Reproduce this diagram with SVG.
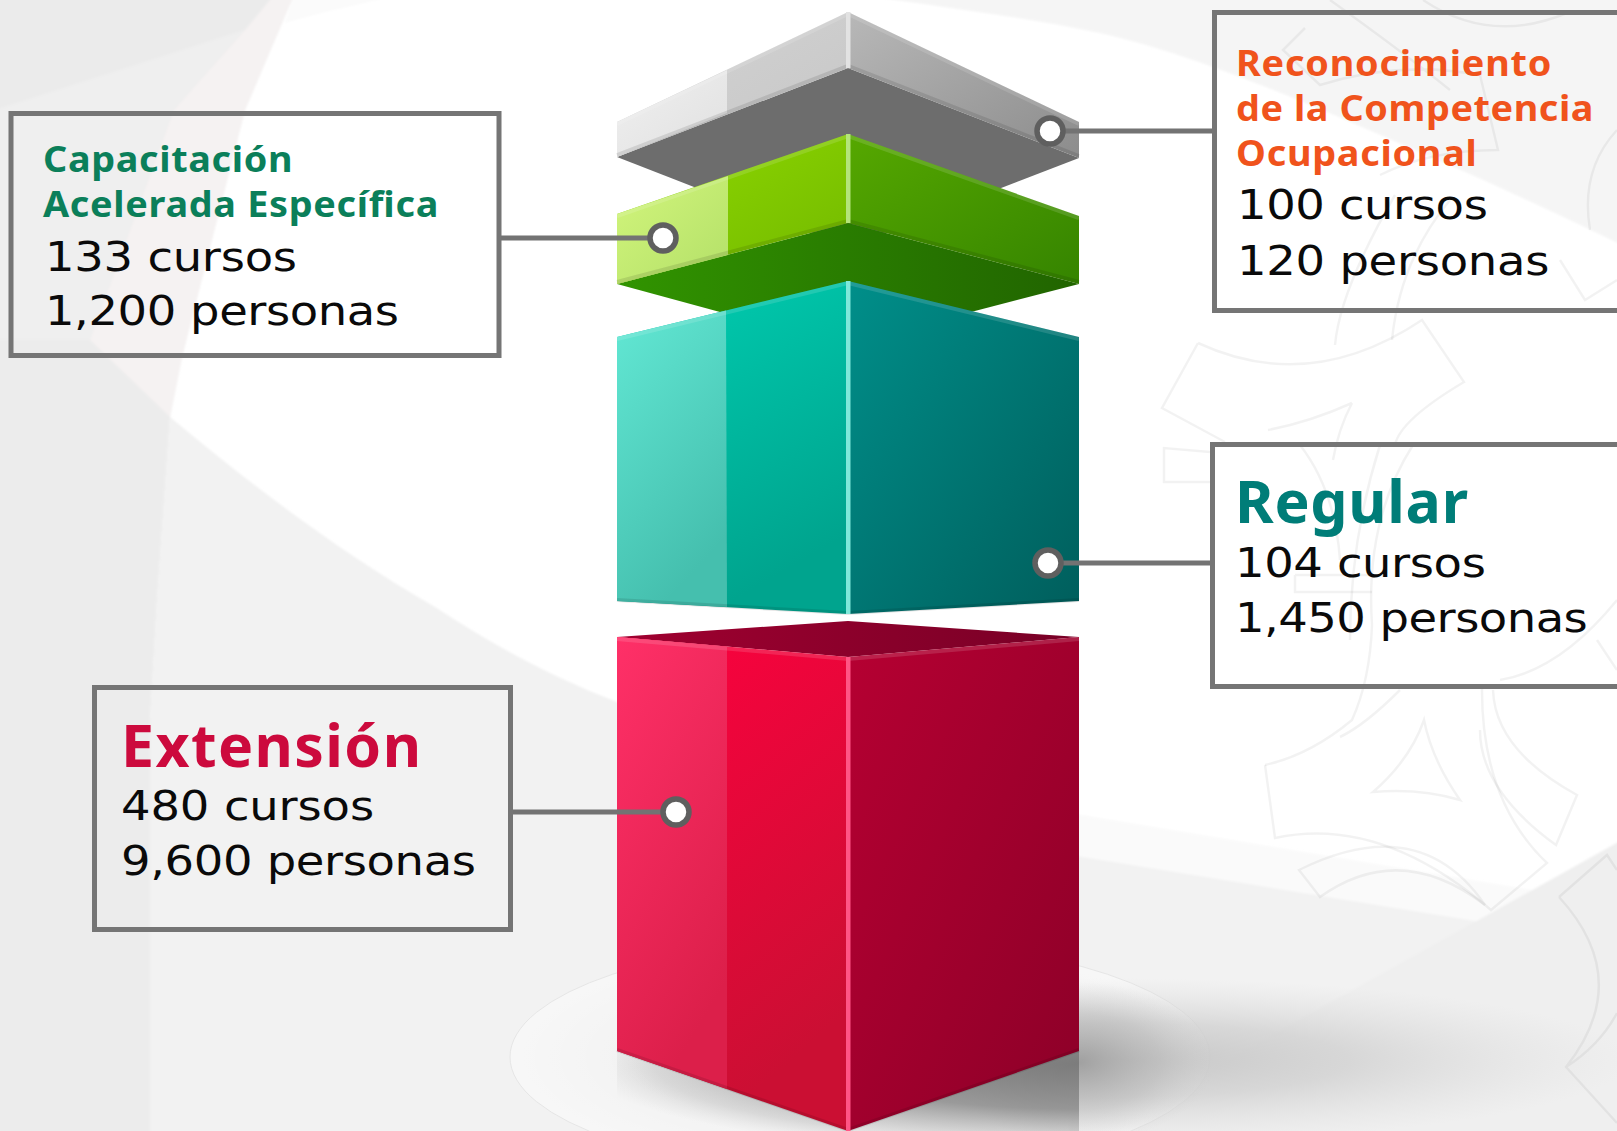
<svg xmlns="http://www.w3.org/2000/svg" width="1617" height="1131" viewBox="0 0 1617 1131">
<style>
.box{fill:none;stroke:#757575;stroke-width:5}
.lbl{font-family:"DejaVu Sans","Liberation Sans",sans-serif;font-size:41.5px;fill:#0a0a0a}
.ttl{font-family:"Noto Sans","DejaVu Sans",sans-serif;font-weight:700;font-size:35px}
.big{font-size:59px}
.conn{stroke:#737373;stroke-width:5;fill:none}
.dot{fill:#fff;stroke:#5f5f5f;stroke-width:5.5}
.orn{fill:none;stroke:#000;stroke-opacity:.05;stroke-width:2.5}
.hi{fill:none;stroke:#fff;stroke-width:4;stroke-opacity:.13}
.lo{fill:none;stroke:#000;stroke-width:4;stroke-opacity:.1}
</style>
<defs>
<filter id="soft" x="0" y="0" width="1" height="1"><feGaussianBlur stdDeviation="1.2"/></filter>
<linearGradient id="gs" x1="0" y1="0" x2="1" y2="1"><stop offset="0" stop-color="#f0f0f0"/><stop offset="1" stop-color="#e0e0e0"/></linearGradient>
<linearGradient id="gm" x1="0" y1="0" x2="1" y2="1"><stop offset="0" stop-color="#d4d4d4"/><stop offset="1" stop-color="#c6c6c6"/></linearGradient>
<linearGradient id="gr" x1="0" y1="0" x2="1" y2="1"><stop offset="0" stop-color="#b8b8b8"/><stop offset="1" stop-color="#8c8c8c"/></linearGradient>
<linearGradient id="vs" x1="0" y1="0" x2="1" y2="1"><stop offset="0" stop-color="#d2f57c"/><stop offset="1" stop-color="#b3e068"/></linearGradient>
<linearGradient id="vm" x1="0" y1="0" x2="1" y2="1"><stop offset="0" stop-color="#90da00"/><stop offset="1" stop-color="#72b800"/></linearGradient>
<linearGradient id="vr" x1="0" y1="0" x2="1" y2="1"><stop offset="0" stop-color="#56a800"/><stop offset="1" stop-color="#358400"/></linearGradient>
<linearGradient id="vu" x1="0" y1="0" x2="1" y2="0"><stop offset="0" stop-color="#319400"/><stop offset="1" stop-color="#216400"/></linearGradient>
<linearGradient id="ts" x1="0" y1="0" x2="0.4" y2="1"><stop offset="0" stop-color="#62e8d4"/><stop offset="1" stop-color="#45bfae"/></linearGradient>
<linearGradient id="tm" x1="0" y1="0" x2="0.4" y2="1"><stop offset="0" stop-color="#00cfb2"/><stop offset="1" stop-color="#00a48e"/></linearGradient>
<linearGradient id="tr" x1="0" y1="0" x2="1" y2="1"><stop offset="0" stop-color="#008f8a"/><stop offset="1" stop-color="#005e5c"/></linearGradient>
<linearGradient id="rs" x1="0" y1="0" x2="0.4" y2="1"><stop offset="0" stop-color="#ff3068"/><stop offset="1" stop-color="#dc1f4a"/></linearGradient>
<linearGradient id="rm" x1="0" y1="0" x2="0.4" y2="1"><stop offset="0" stop-color="#ff003f"/><stop offset="1" stop-color="#cb0f33"/></linearGradient>
<linearGradient id="rr" x1="0" y1="0" x2="1" y2="1"><stop offset="0" stop-color="#b60032"/><stop offset="1" stop-color="#8c0028"/></linearGradient>
<linearGradient id="ru" x1="0" y1="0" x2="1" y2="0"><stop offset="0" stop-color="#a00030"/><stop offset="1" stop-color="#780026"/></linearGradient>
<radialGradient id="sh1"><stop offset="0" stop-color="#7c7c7c"/><stop offset=".5" stop-color="#8c8c8c" stop-opacity=".85"/><stop offset=".85" stop-color="#b4b4b4" stop-opacity=".4"/><stop offset="1" stop-color="#ccc" stop-opacity="0"/></radialGradient>
<radialGradient id="sh2"><stop offset="0" stop-color="#c6c6c6"/><stop offset=".45" stop-color="#cfcfcf" stop-opacity=".75"/><stop offset="1" stop-color="#ddd" stop-opacity="0"/></radialGradient>
<radialGradient id="sh3"><stop offset="0" stop-color="#9c9c9c" stop-opacity=".9"/><stop offset=".6" stop-color="#b4b4b4" stop-opacity=".45"/><stop offset="1" stop-color="#ccc" stop-opacity="0"/></radialGradient>
<radialGradient id="el"><stop offset=".6" stop-color="#fff" stop-opacity="0"/><stop offset="1" stop-color="#fff" stop-opacity=".42"/></radialGradient>
<clipPath id="under"><rect x="617" y="1040" width="462" height="91"/></clipPath>
</defs>

<g id="background">
<rect width="1617" height="1131" fill="#fff"/>
<g filter="url(#soft)">
<path d="M-5,-5H294L245,110L182,357L170,417L157,600L150,720V1136H-5Z" fill="#ececec"/>
<path d="M-5,110L245,30L274,-5H-5Z" fill="#ebebeb"/>
<path d="M-5,110L245,30L174,110L90,340H-5Z" fill="#efefef"/>
<path d="M245,30L274,-5H294L245,110L182,357L170,417L90,340L174,110Z" fill="#f5f2f2"/>
<path d="M285,23C320,12 360,5 395,-5H294Z" fill="#fbfbfb"/>
<path d="M150,720L157,600L170,417C245,480 336,550 435,607C500,650 560,680 617,702L848,790V1136H150Z" fill="#f2f2f2"/>
<path d="M860,-5C950,8 1030,18 1100,33C1140,42 1180,55 1213,67C1290,95 1350,122 1415,150C1480,178 1550,210 1622,245V-5Z" fill="#f5f5f5"/>
<path d="M1070,813L1622,905V1136H1070Z" fill="#fafafa"/>
<path d="M1070,855L1622,945V1136H1070Z" fill="#f2f2f2"/>
<path d="M1622,840L1210,1070L1130,1136H1622Z" fill="#efefef"/>
</g>
<g class="orn">
<path d="M1198,343Q1310,395 1422,320L1464,382Q1400,420 1395,445M1198,343L1162,408L1225,442"/>
<path d="M1352,403Q1310,422 1268,430M1352,403Q1338,430 1333,460"/>
<path d="M1210,452L1164,448L1164,482L1210,482"/>
<path d="M1413,445Q1365,520 1372,625Q1370,680 1352,720Q1310,755 1265,765M1400,690Q1365,725 1340,737"/>
<path d="M1380,445Q1350,540 1350,640M1300,445Q1335,490 1340,560"/>
<path d="M1295,575H1370M1295,575V592H1372"/>
<path d="M1424,720Q1410,760 1373,792Q1420,788 1460,800Q1432,760 1424,720Z"/>
<path d="M1265,765L1275,838Q1381,815 1491,910L1547,863Q1481,800 1482,687"/>
<path d="M1299,870L1320,897Q1400,840 1485,905Q1420,810 1299,870Z"/>
<path d="M1493,690Q1495,750 1577,795L1556,845Q1480,790 1480,730"/>
<path d="M1559,897L1607,855L1617,870M1559,897Q1635,980 1566,1067L1617,1123M1566,1067Q1600,1045 1617,1013"/>
<path d="M1617,600Q1560,670 1500,680M1597,640L1617,670"/>
<path d="M1423,0Q1490,45 1567,13M1330,0Q1400,50 1450,90M1305,28L1283,50L1320,85Q1400,60 1480,75M1480,75L1498,150Q1430,150 1380,175"/>
<path d="M1395,195Q1340,290 1335,345M1450,200Q1400,260 1392,340M1560,260L1585,300L1617,280"/>
<path d="M1617,130Q1580,170 1590,230"/>
</g>
</g>

<g id="shadow">
<ellipse cx="860" cy="1057" rx="350" ry="117" fill="url(#el)" stroke="#e6e6e6" stroke-width="1"/>
<ellipse cx="1120" cy="1060" rx="510" ry="82" fill="url(#sh2)"/>
<ellipse cx="1079" cy="1062" rx="135" ry="80" fill="url(#sh3)"/>
<ellipse cx="1080" cy="1064" rx="500" ry="90" fill="url(#sh1)" clip-path="url(#under)"/>
</g>

<g id="reconocimiento-cube">
<polygon points="617,157 848,68 1079,158 848,247" fill="#6d6d6d"/>
<polygon points="617,122 848,12 848,68 617,157" fill="url(#gm)"/>
<polygon points="617,122 727,70 727,113 617,157" fill="url(#gs)"/>
<polygon points="848,12 1079,122 1079,158 848,68" fill="url(#gr)"/>
<path class="hi" d="M617,124L848,14L1079,124" stroke-opacity=".3"/>
<path class="lo" d="M617,155L848,66L1079,156"/>
<rect x="846" y="12" width="4.5" height="56" fill="#e2e2e2"/>
</g>

<g id="capacitacion-cube">
<polygon points="617,284 848,223 1079,284 948,318 742,318" fill="url(#vu)"/>
<polygon points="617,214 848,134 848,223 617,284" fill="url(#vm)"/>
<polygon points="617,214 728,176 728,255 617,284" fill="url(#vs)"/>
<polygon points="848,134 1079,216 1079,284 848,223" fill="url(#vr)"/>
<path class="hi" d="M617,216L848,136L1079,218"/>
<path class="lo" d="M617,282L848,221L1079,282"/>
<rect x="846" y="134" width="4.5" height="89" fill="#b4e47a"/>
</g>

<g id="regular-cube">
<polygon points="617,337 848,281 848,614 617,601" fill="url(#tm)"/>
<polygon points="617,337 726,310.5 727,607 617,601" fill="url(#ts)"/>
<polygon points="848,281 1079,337 1079,601 848,614" fill="url(#tr)"/>
<path class="hi" d="M617,339L848,283L1079,339" stroke-opacity=".28"/>
<path class="lo" d="M617,600L848,613L1079,600"/>
<rect x="846" y="281" width="4.5" height="333" fill="#7fe8da"/>
</g>

<g id="extension-cube">
<polygon points="617,637 848,621 1079,637 848,657" fill="url(#ru)"/>
<polygon points="617,637 848,657 848,1131 617,1051" fill="url(#rm)"/>
<polygon points="617,637 727,646.5 727,1089 617,1051" fill="url(#rs)"/>
<polygon points="848,657 1079,637 1079,1051 848,1131" fill="url(#rr)"/>
<path class="hi" d="M617,639L848,659" stroke-opacity=".3"/>
<path class="hi" d="M848,659L1079,639" stroke-opacity=".3"/>
<path class="lo" d="M617,1050L848,1130L1079,1050"/>
<rect x="846" y="657" width="4.5" height="474" fill="#ff5585"/>
</g>

<g id="connectors">
<path class="conn" d="M501,238H650"/>
<circle class="dot" cx="663" cy="238" r="13"/>
<path class="conn" d="M1212,131H1062"/>
<circle class="dot" cx="1050" cy="131" r="13"/>
<path class="conn" d="M1210,563H1060"/>
<circle class="dot" cx="1048" cy="563" r="13"/>
<path class="conn" d="M513,812H665"/>
<circle class="dot" cx="676" cy="812" r="13"/>
</g>

<g id="node-capacitacion">
<rect class="box" x="11" y="113.5" width="488" height="242"/>
<text class="ttl" transform="translate(43 172) scale(1.08 1)" fill="#0b7f5a" textLength="231" lengthAdjust="spacing">Capacitación</text>
<text class="ttl" transform="translate(43 217) scale(1.08 1)" fill="#0b7f5a" textLength="366" lengthAdjust="spacing">Acelerada Específica</text>
<text class="lbl" transform="translate(45 270.5) scale(1.12 1)" textLength="225" lengthAdjust="spacing">133 cursos</text>
<text class="lbl" transform="translate(45 325) scale(1.12 1)" textLength="316" lengthAdjust="spacing">1,200 personas</text>
</g>

<g id="node-reconocimiento">
<rect class="box" x="1214.5" y="12.5" width="410" height="298"/>
<text class="ttl" transform="translate(1236 76) scale(1.08 1)" fill="#f0531c" textLength="292" lengthAdjust="spacing">Reconocimiento</text>
<text class="ttl" transform="translate(1236 121) scale(1.08 1)" fill="#f0531c" textLength="331" lengthAdjust="spacing">de la Competencia</text>
<text class="ttl" transform="translate(1236 166) scale(1.08 1)" fill="#f0531c" textLength="223" lengthAdjust="spacing">Ocupacional</text>
<text class="lbl" transform="translate(1237 219) scale(1.12 1)" textLength="224" lengthAdjust="spacing">100 cursos</text>
<text class="lbl" transform="translate(1237 274.5) scale(1.12 1)" textLength="279" lengthAdjust="spacing">120 personas</text>
</g>

<g id="node-regular">
<rect class="box" x="1212.5" y="444.5" width="412" height="242"/>
<text class="ttl big" x="1235" y="523" fill="#007d78" textLength="233" lengthAdjust="spacing">Regular</text>
<text class="lbl" transform="translate(1235 577) scale(1.12 1)" textLength="224" lengthAdjust="spacing">104 cursos</text>
<text class="lbl" transform="translate(1235 632) scale(1.12 1)" textLength="315" lengthAdjust="spacing">1,450 personas</text>
</g>

<g id="node-extension">
<rect class="box" x="94.5" y="687.5" width="416" height="242"/>
<text class="ttl big" x="121" y="767" fill="#cc0a3d" textLength="300" lengthAdjust="spacing">Extensión</text>
<text class="lbl" transform="translate(121 820) scale(1.12 1)" textLength="226" lengthAdjust="spacing">480 cursos</text>
<text class="lbl" transform="translate(121 875) scale(1.12 1)" textLength="317" lengthAdjust="spacing">9,600 personas</text>
</g>
</svg>
